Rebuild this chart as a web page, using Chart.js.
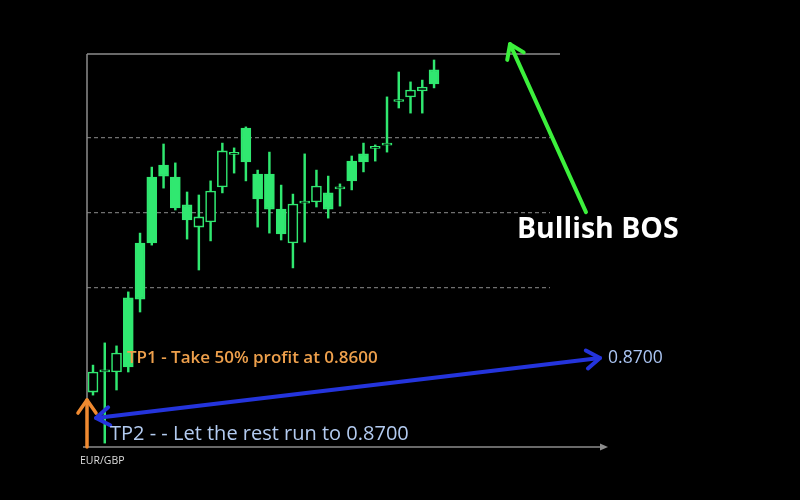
<!DOCTYPE html>
<html>
<head>
<meta charset="utf-8">
<script src="https://cdn.jsdelivr.net/npm/chart.js@4"></script>
<style>
html, body { margin: 0; background: #000; }
#wrap { width: 800px; height: 500px; }
</style>
</head>
<body>
<div id="wrap"><canvas id="chart" width="800" height="500"></canvas></div>
<script>
// EUR/GBP candles (hollow = close above open)
const opens  = [0.85653, 0.85720, 0.85720, 0.85967, 0.86150, 0.86370, 0.86410, 0.86370, 0.86277, 0.86203,
                0.86220, 0.86337, 0.86445, 0.86533, 0.86380, 0.86380, 0.86263, 0.86150, 0.86283, 0.86287,
                0.86317, 0.86330, 0.86423, 0.86447, 0.86465, 0.86476, 0.86622, 0.86637, 0.86657, 0.86727];
const closes = [0.85720, 0.85727, 0.85783, 0.85737, 0.85963, 0.86150, 0.86373, 0.86267, 0.86227, 0.86237,
                0.86323, 0.86457, 0.86452, 0.86420, 0.86297, 0.86263, 0.86180, 0.86280, 0.86290, 0.86340,
                0.86263, 0.86337, 0.86357, 0.86420, 0.86472, 0.86483, 0.86628, 0.86660, 0.86670, 0.86680];
const highs  = [0.85743, 0.85817, 0.85807, 0.85987, 0.86183, 0.86403, 0.86480, 0.86417, 0.86320, 0.86310,
                0.86357, 0.86483, 0.86467, 0.86537, 0.86393, 0.86453, 0.86343, 0.86313, 0.86447, 0.86393,
                0.86373, 0.86347, 0.86440, 0.86483, 0.86477, 0.86637, 0.86720, 0.86687, 0.86693, 0.86760];
const lows   = [0.85643, 0.85483, 0.85660, 0.85720, 0.85920, 0.86143, 0.86333, 0.86260, 0.86163, 0.86060,
                0.86157, 0.86317, 0.86383, 0.86357, 0.86203, 0.86183, 0.86160, 0.86067, 0.86153, 0.86270,
                0.86233, 0.86273, 0.86327, 0.86387, 0.86423, 0.86453, 0.86600, 0.86583, 0.86583, 0.86667];
const bars = opens.map((_, i) => i);
const gridPrices = [0.8600, 0.8625, 0.8650];

const green = '#30e870';

// notes and arrows, placed in data space (bar index, price)
const arrows = [
  { from: [-0.51, 0.85470], to: [-0.51, 0.85627], color: '#f08a30', width: 3.5, both: false },
  { from: [43.11, 0.85767], to: [0.26, 0.85567], color: '#2434dc', width: 4, both: true },
  { from: [41.92, 0.86253], to: [35.46, 0.86813], color: '#3cf03c', width: 4, both: false }
];
const notes = [
  { text: 'TP1 - Take 50% profit at 0.8600', at: [2.89, 0.85767], color: '#eea04c', font: '600 17px "Open Sans"' },
  { text: '0.8700', at: [43.8, 0.85767], color: '#aac4f2', font: '17.5px "Open Sans"' },
  { text: 'TP2 - - Let the rest run to 0.8700', at: [1.45, 0.85513], color: '#b3cbf0', font: '20px "Open Sans"' },
  { text: 'EUR/GBP', at: [-1.11, 0.85423], color: '#dddddd', font: '10.5px "Open Sans"' },
  { text: 'Bullish BOS', at: [36.05, 0.86193], color: '#ffffff', font: 'bold 28.5px "Open Sans"' }
];

function arrowHead(ctx, x1, y1, x2, y2, len) {
  const a = Math.atan2(y2 - y1, x2 - x1);
  ctx.beginPath();
  ctx.moveTo(x2 - len * Math.cos(a - 0.6), y2 - len * Math.sin(a - 0.6));
  ctx.lineTo(x2, y2);
  ctx.lineTo(x2 - len * Math.cos(a + 0.6), y2 - len * Math.sin(a + 0.6));
  ctx.stroke();
}

const deco = {
  id: 'deco',
  beforeDatasetsDraw(chart) {
    const { ctx, chartArea: a } = chart;
    ctx.save();
    ctx.strokeStyle = '#8c8c8c';
    ctx.lineWidth = 1.5;
    ctx.beginPath();
    ctx.moveTo(a.left, a.top);
    ctx.lineTo(a.left, a.bottom);
    ctx.moveTo(a.left, a.top);
    ctx.lineTo(a.right + 10, a.top);
    ctx.moveTo(a.left - 4, a.bottom);
    ctx.lineTo(a.right + 54, a.bottom);
    ctx.stroke();
    ctx.fillStyle = '#8c8c8c';
    ctx.beginPath();
    ctx.moveTo(a.right + 58, a.bottom);
    ctx.lineTo(a.right + 50, a.bottom - 3.5);
    ctx.lineTo(a.right + 50, a.bottom + 3.5);
    ctx.closePath();
    ctx.fill();
    ctx.restore();
  },
  afterDraw(chart) {
    const { ctx } = chart;
    const xs = chart.scales.x, ys = chart.scales.y;
    const px = p => [xs.getPixelForValue(p[0]), ys.getPixelForValue(p[1])];
    ctx.save();
    ctx.lineCap = 'round';
    ctx.lineJoin = 'round';
    arrows.forEach(ar => {
      const [x1, y1] = px(ar.from), [x2, y2] = px(ar.to);
      ctx.strokeStyle = ar.color;
      ctx.lineWidth = ar.width;
      ctx.beginPath();
      ctx.moveTo(x1, y1);
      ctx.lineTo(x2, y2);
      ctx.stroke();
      arrowHead(ctx, x1, y1, x2, y2, 16);
      if (ar.both) arrowHead(ctx, x2, y2, x1, y1, 16);
    });
    ctx.textBaseline = 'middle';
    ctx.textAlign = 'left';
    notes.forEach(n => {
      const [x, y] = px(n.at);
      ctx.font = n.font;
      ctx.fillStyle = n.color;
      ctx.fillText(n.text, x, y);
    });
    ctx.restore();
  }
};

const chart = document.querySelector('#chart').getContext('2d');
new Chart(chart, {
  type: 'bar',
  data: {
    datasets: [
      {
        label: 'wick',
        data: bars.map(i => ({ x: i, y: [lows[i], highs[i]] })),
        backgroundColor: green,
        borderWidth: 0,
        barThickness: 1.8,
        grouped: false,
        order: 2
      },
      {
        label: 'body',
        data: bars.map(i => ({ x: i, y: [opens[i], closes[i]] })),
        backgroundColor: c => closes[c.dataIndex] >= opens[c.dataIndex] ? '#000000' : green,
        borderColor: green,
        borderWidth: 1.6,
        borderSkipped: false,
        barThickness: 10,
        grouped: false,
        order: 1
      }
    ]
  },
  options: {
    responsive: false,
    animation: false,
    layout: { padding: { left: 87, right: 250, top: 54, bottom: 53 } },
    plugins: { legend: { display: false }, tooltip: { enabled: false } },
    scales: {
      x: { type: 'linear', min: -0.51, max: 38.86, offset: false, display: false },
      y: {
        min: 0.8547,
        max: 0.8678,
        afterBuildTicks: s => { s.ticks = gridPrices.map(v => ({ value: v })); },
        ticks: { display: false },
        grid: { color: '#707070', lineWidth: 1.2, drawTicks: false },
        border: { display: false, dash: [4, 3] }
      }
    }
  },
  plugins: [deco]
});
</script>
</body>
</html>
